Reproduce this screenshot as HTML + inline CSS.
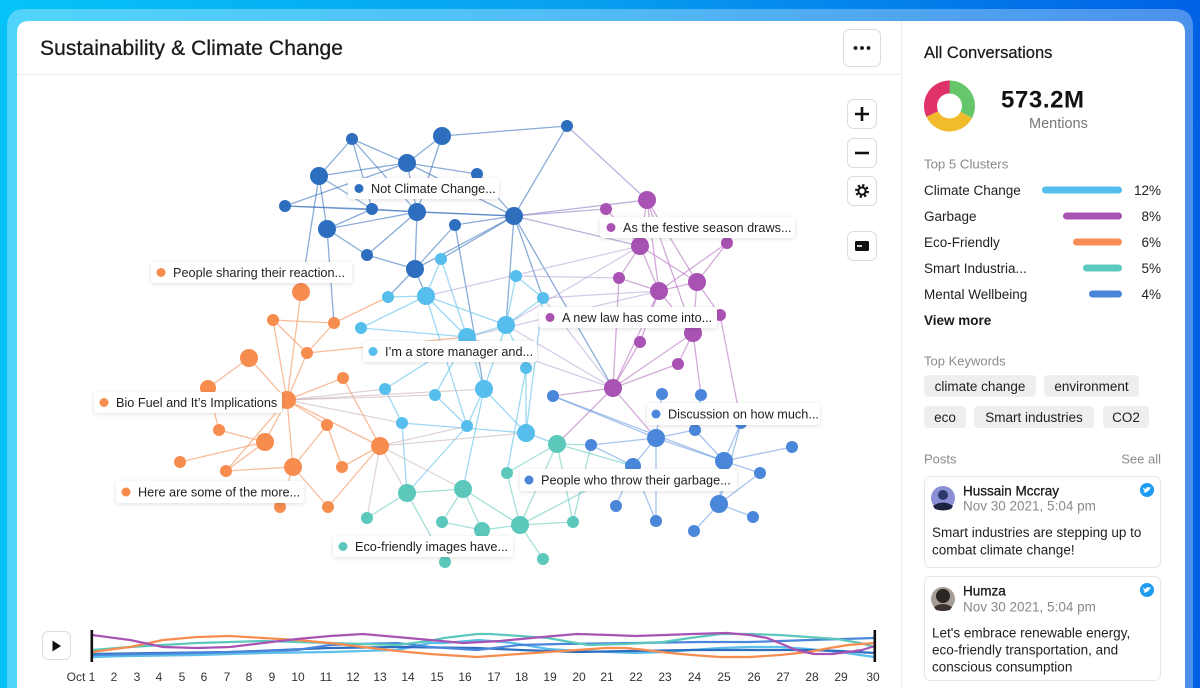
<!DOCTYPE html>
<html><head><meta charset="utf-8"><style>
html,body{margin:0;padding:0;width:1200px;height:688px;overflow:hidden;background:#fff}
svg{display:block;font-family:"Liberation Sans",sans-serif}
</style></head><body>
<svg width="1200" height="688" viewBox="0 0 1200 688" xmlns="http://www.w3.org/2000/svg">
<defs>
<linearGradient id="bg" x1="0" y1="0" x2="1" y2="0">
<stop offset="0" stop-color="#06c3f7"/><stop offset="0.5" stop-color="#079ef0"/><stop offset="1" stop-color="#0061e5"/>
</linearGradient>
<filter id="sh" x="-10%" y="-40%" width="120%" height="190%"><feDropShadow dx="0" dy="1" stdDeviation="2" flood-color="#000" flood-opacity="0.13"/></filter>
</defs>
<rect width="1200" height="688" fill="url(#bg)"/>
<path d="M7 688 V27 Q7 9 25 9 H1175 Q1193 9 1193 27 V688 Z" fill="#fff" fill-opacity="0.3"/>
<path d="M17 688 V33 Q17 21 29 21 H1173 Q1185 21 1185 33 V688 Z" fill="#fff"/>
<line x1="17" y1="74.5" x2="901" y2="74.5" stroke="#ececec"/>
<line x1="901.5" y1="21" x2="901.5" y2="688" stroke="#ececec"/>

<text x="40" y="55" font-size="21" fill="#1b1b1b" stroke="#1b1b1b" stroke-width="0.3" letter-spacing="0.1">Sustainability &amp; Climate Change</text>

<!-- more button -->
<rect x="843.5" y="29.5" width="37" height="37" rx="6" fill="#fff" stroke="#dcdcdc"/>
<circle cx="855.5" cy="48" r="1.9" fill="#111"/><circle cx="862" cy="48" r="1.9" fill="#111"/><circle cx="868.5" cy="48" r="1.9" fill="#111"/>

<!-- zoom controls -->
<rect x="847.5" y="99.5" width="29" height="29" rx="6" fill="#fff" stroke="#dcdcdc"/>
<path d="M855 114h14M862 107v14" stroke="#111" stroke-width="2.6"/>
<rect x="847.5" y="138.5" width="29" height="29" rx="6" fill="#fff" stroke="#dcdcdc"/>
<path d="M855 153h14" stroke="#111" stroke-width="2.6"/>
<rect x="847.5" y="176.5" width="29" height="29" rx="6" fill="#fff" stroke="#dcdcdc"/>
<circle cx="862" cy="191" r="5.6" fill="none" stroke="#111" stroke-width="2.6" stroke-dasharray="2.2 2.2"/>
<circle cx="862" cy="191" r="3.6" fill="none" stroke="#111" stroke-width="2"/>
<rect x="847.5" y="231.5" width="29" height="29" rx="6" fill="#fff" stroke="#dcdcdc"/>
<rect x="855" y="241" width="14" height="10" rx="1.5" fill="#111"/>
<path d="M857 246h5" stroke="#fff" stroke-width="1.6"/>

<!-- edges -->
<g stroke="#3c74bd" stroke-opacity="0.6" stroke-width="1.3">
<line x1="352" y1="139" x2="319" y2="176"/><line x1="352" y1="139" x2="407" y2="163"/><line x1="352" y1="139" x2="372" y2="209"/><line x1="352" y1="139" x2="417" y2="212"/>
<line x1="442" y1="136" x2="407" y2="163"/><line x1="442" y1="136" x2="567" y2="126"/><line x1="442" y1="136" x2="417" y2="212"/>
<line x1="407" y1="163" x2="319" y2="176"/><line x1="407" y1="163" x2="477" y2="174"/><line x1="407" y1="163" x2="514" y2="216"/><line x1="407" y1="163" x2="417" y2="212"/><line x1="407" y1="163" x2="285" y2="206"/>
<line x1="319" y1="176" x2="327" y2="229"/><line x1="319" y1="176" x2="372" y2="209"/><line x1="319" y1="176" x2="301" y2="292"/>
<line x1="285" y1="206" x2="372" y2="209"/><line x1="285" y1="206" x2="514" y2="216"/>
<line x1="372" y1="209" x2="417" y2="212"/><line x1="372" y1="209" x2="327" y2="229"/>
<line x1="417" y1="212" x2="514" y2="216"/><line x1="417" y1="212" x2="415" y2="269"/><line x1="417" y1="212" x2="367" y2="255"/><line x1="417" y1="212" x2="327" y2="229"/>
<line x1="514" y1="216" x2="455" y2="225"/><line x1="514" y1="216" x2="567" y2="126"/><line x1="514" y1="216" x2="415" y2="269"/><line x1="514" y1="216" x2="477" y2="174"/>
<line x1="455" y1="225" x2="415" y2="269"/><line x1="327" y1="229" x2="367" y2="255"/><line x1="367" y1="255" x2="415" y2="269"/>
<line x1="327" y1="229" x2="334" y2="323"/><line x1="415" y1="269" x2="426" y2="296"/><line x1="415" y1="269" x2="388" y2="297"/>
<line x1="514" y1="216" x2="543" y2="298"/><line x1="514" y1="216" x2="441" y2="259"/><line x1="514" y1="216" x2="506" y2="325"/><line x1="514" y1="216" x2="613" y2="388"/><line x1="455" y1="225" x2="484" y2="389"/>
</g>
<g stroke="#8f80c6" stroke-opacity="0.6" stroke-width="1.3">
<line x1="567" y1="126" x2="647" y2="200"/><line x1="514" y1="216" x2="647" y2="200"/><line x1="514" y1="216" x2="640" y2="246"/><line x1="514" y1="216" x2="606" y2="209"/>
</g>
<g stroke="#5cbfea" stroke-opacity="0.6" stroke-width="1.3">
<line x1="441" y1="259" x2="426" y2="296"/><line x1="388" y1="297" x2="426" y2="296"/><line x1="426" y1="296" x2="506" y2="325"/><line x1="426" y1="296" x2="467" y2="337"/><line x1="426" y1="296" x2="361" y2="328"/>
<line x1="516" y1="276" x2="506" y2="325"/><line x1="516" y1="276" x2="543" y2="298"/><line x1="543" y1="298" x2="506" y2="325"/><line x1="506" y1="325" x2="467" y2="337"/>
<line x1="467" y1="337" x2="484" y2="389"/><line x1="467" y1="337" x2="385" y2="389"/><line x1="467" y1="337" x2="435" y2="395"/><line x1="361" y1="328" x2="467" y2="337"/>
<line x1="385" y1="389" x2="402" y2="423"/><line x1="435" y1="395" x2="467" y2="426"/><line x1="484" y1="389" x2="467" y2="426"/><line x1="484" y1="389" x2="526" y2="433"/><line x1="402" y1="423" x2="526" y2="433"/>
<line x1="506" y1="325" x2="526" y2="368"/><line x1="526" y1="368" x2="526" y2="433"/><line x1="506" y1="325" x2="484" y2="389"/><line x1="426" y1="296" x2="467" y2="426"/><line x1="441" y1="259" x2="467" y2="337"/>
<line x1="526" y1="433" x2="557" y2="444"/><line x1="484" y1="389" x2="463" y2="489"/><line x1="402" y1="423" x2="407" y2="493"/><line x1="467" y1="426" x2="407" y2="493"/><line x1="526" y1="368" x2="507" y2="473"/><line x1="543" y1="298" x2="526" y2="433"/>
</g>
<g stroke="#b9a6d6" stroke-opacity="0.6" stroke-width="1.2">
<line x1="543" y1="298" x2="613" y2="388"/><line x1="516" y1="276" x2="619" y2="278"/><line x1="426" y1="296" x2="640" y2="246"/><line x1="506" y1="325" x2="640" y2="246"/><line x1="467" y1="337" x2="659" y2="291"/>
<line x1="613" y1="388" x2="506" y2="325"/><line x1="613" y1="388" x2="467" y2="337"/><line x1="659" y1="291" x2="543" y2="298"/>
</g>
<g stroke="#f5a678" stroke-opacity="0.75" stroke-width="1.3">
<line x1="301" y1="292" x2="287" y2="400"/><line x1="273" y1="320" x2="334" y2="323"/><line x1="273" y1="320" x2="307" y2="353"/><line x1="334" y1="323" x2="307" y2="353"/><line x1="307" y1="353" x2="287" y2="400"/>
<line x1="249" y1="358" x2="287" y2="400"/><line x1="249" y1="358" x2="208" y2="388"/><line x1="287" y1="400" x2="343" y2="378"/><line x1="287" y1="400" x2="327" y2="425"/><line x1="287" y1="400" x2="380" y2="446"/>
<line x1="287" y1="400" x2="293" y2="467"/><line x1="287" y1="400" x2="265" y2="442"/><line x1="287" y1="400" x2="226" y2="471"/><line x1="287" y1="400" x2="273" y2="320"/>
<line x1="343" y1="378" x2="380" y2="446"/><line x1="327" y1="425" x2="342" y2="467"/><line x1="327" y1="425" x2="293" y2="467"/><line x1="219" y1="430" x2="265" y2="442"/><line x1="265" y1="442" x2="180" y2="462"/>
<line x1="226" y1="471" x2="293" y2="467"/><line x1="226" y1="471" x2="265" y2="442"/><line x1="293" y1="467" x2="328" y2="507"/><line x1="342" y1="467" x2="380" y2="446"/><line x1="380" y1="446" x2="328" y2="507"/>
<line x1="208" y1="388" x2="219" y2="430"/><line x1="280" y1="507" x2="293" y2="467"/><line x1="334" y1="323" x2="388" y2="297"/><line x1="307" y1="353" x2="467" y2="337"/>
</g>
<g stroke="#c9b3b8" stroke-opacity="0.6" stroke-width="1.2">
<line x1="287" y1="400" x2="385" y2="389"/><line x1="287" y1="400" x2="402" y2="423"/><line x1="287" y1="400" x2="435" y2="395"/><line x1="287" y1="400" x2="484" y2="389"/>
<line x1="380" y1="446" x2="407" y2="493"/><line x1="380" y1="446" x2="367" y2="518"/><line x1="380" y1="446" x2="467" y2="426"/><line x1="380" y1="446" x2="463" y2="489"/><line x1="380" y1="446" x2="526" y2="433"/>
</g>
<g stroke="#b672c0" stroke-opacity="0.6" stroke-width="1.3">
<line x1="647" y1="200" x2="640" y2="246"/><line x1="647" y1="200" x2="659" y2="291"/><line x1="647" y1="200" x2="697" y2="282"/><line x1="647" y1="200" x2="693" y2="333"/>
<line x1="640" y1="246" x2="619" y2="278"/><line x1="640" y1="246" x2="659" y2="291"/><line x1="640" y1="246" x2="697" y2="282"/><line x1="727" y1="243" x2="697" y2="282"/><line x1="727" y1="243" x2="659" y2="291"/>
<line x1="619" y1="278" x2="659" y2="291"/><line x1="659" y1="291" x2="697" y2="282"/><line x1="659" y1="291" x2="640" y2="342"/><line x1="659" y1="291" x2="693" y2="333"/><line x1="659" y1="291" x2="613" y2="388"/>
<line x1="697" y1="282" x2="720" y2="315"/><line x1="697" y1="282" x2="693" y2="333"/><line x1="720" y1="315" x2="693" y2="333"/><line x1="693" y1="333" x2="678" y2="364"/><line x1="693" y1="333" x2="613" y2="388"/>
<line x1="640" y1="342" x2="613" y2="388"/><line x1="678" y1="364" x2="613" y2="388"/><line x1="619" y1="278" x2="613" y2="388"/><line x1="606" y1="209" x2="640" y2="246"/>
<line x1="720" y1="315" x2="741" y2="423"/><line x1="693" y1="333" x2="701" y2="395"/><line x1="613" y1="388" x2="553" y2="396"/><line x1="613" y1="388" x2="656" y2="438"/><line x1="613" y1="388" x2="557" y2="444"/>
</g>
<g stroke="#6a9de1" stroke-opacity="0.6" stroke-width="1.3">
<line x1="553" y1="396" x2="656" y2="438"/><line x1="662" y1="394" x2="656" y2="438"/><line x1="656" y1="438" x2="591" y2="445"/><line x1="656" y1="438" x2="724" y2="461"/><line x1="656" y1="438" x2="633" y2="466"/>
<line x1="656" y1="438" x2="656" y2="521"/><line x1="656" y1="438" x2="695" y2="430"/><line x1="695" y1="430" x2="724" y2="461"/><line x1="741" y1="423" x2="724" y2="461"/><line x1="701" y1="395" x2="695" y2="430"/>
<line x1="792" y1="447" x2="724" y2="461"/><line x1="724" y1="461" x2="760" y2="473"/><line x1="724" y1="461" x2="719" y2="504"/><line x1="760" y1="473" x2="719" y2="504"/><line x1="719" y1="504" x2="753" y2="517"/>
<line x1="719" y1="504" x2="694" y2="531"/><line x1="633" y1="466" x2="616" y2="506"/><line x1="591" y1="445" x2="633" y2="466"/><line x1="741" y1="423" x2="719" y2="504"/><line x1="656" y1="521" x2="633" y2="466"/><line x1="553" y1="396" x2="724" y2="461"/>
</g>
<g stroke="#72cfc5" stroke-opacity="0.65" stroke-width="1.3">
<line x1="557" y1="444" x2="520" y2="525"/><line x1="557" y1="444" x2="507" y2="473"/><line x1="557" y1="444" x2="573" y2="522"/><line x1="557" y1="444" x2="591" y2="445"/>
<line x1="407" y1="493" x2="463" y2="489"/><line x1="407" y1="493" x2="367" y2="518"/><line x1="407" y1="493" x2="445" y2="562"/><line x1="463" y1="489" x2="442" y2="522"/><line x1="463" y1="489" x2="482" y2="530"/>
<line x1="463" y1="489" x2="520" y2="525"/><line x1="507" y1="473" x2="520" y2="525"/><line x1="442" y1="522" x2="482" y2="530"/><line x1="482" y1="530" x2="520" y2="525"/><line x1="520" y1="525" x2="573" y2="522"/>
<line x1="520" y1="525" x2="543" y2="559"/><line x1="557" y1="444" x2="633" y2="466"/><line x1="573" y1="522" x2="591" y2="445"/><line x1="520" y1="525" x2="633" y2="466"/>
</g>

<!-- nodes -->
<g fill="#2e6ebe">
<circle cx="352" cy="139" r="6"/><circle cx="442" cy="136" r="9"/><circle cx="407" cy="163" r="9"/><circle cx="319" cy="176" r="9"/><circle cx="477" cy="174" r="6"/>
<circle cx="285" cy="206" r="6"/><circle cx="372" cy="209" r="6"/><circle cx="417" cy="212" r="9"/><circle cx="514" cy="216" r="9"/><circle cx="455" cy="225" r="6"/>
<circle cx="327" cy="229" r="9"/><circle cx="367" cy="255" r="6"/><circle cx="415" cy="269" r="9"/><circle cx="567" cy="126" r="6"/>
</g>
<g fill="#56beec">
<circle cx="441" cy="259" r="6"/><circle cx="516" cy="276" r="6"/><circle cx="388" cy="297" r="6"/><circle cx="426" cy="296" r="9"/><circle cx="543" cy="298" r="6"/>
<circle cx="361" cy="328" r="6"/><circle cx="506" cy="325" r="9"/><circle cx="467" cy="337" r="9"/><circle cx="526" cy="368" r="6"/><circle cx="385" cy="389" r="6"/>
<circle cx="435" cy="395" r="6"/><circle cx="484" cy="389" r="9"/><circle cx="402" cy="423" r="6"/><circle cx="467" cy="426" r="6"/><circle cx="526" cy="433" r="9"/>
</g>
<g fill="#f78c4f">
<circle cx="301" cy="292" r="9"/><circle cx="273" cy="320" r="6"/><circle cx="334" cy="323" r="6"/><circle cx="307" cy="353" r="6"/><circle cx="249" cy="358" r="9"/>
<circle cx="208" cy="388" r="8"/><circle cx="287" cy="400" r="9"/><circle cx="343" cy="378" r="6"/><circle cx="327" cy="425" r="6"/><circle cx="219" cy="430" r="6"/>
<circle cx="265" cy="442" r="9"/><circle cx="380" cy="446" r="9"/><circle cx="180" cy="462" r="6"/><circle cx="226" cy="471" r="6"/><circle cx="293" cy="467" r="9"/>
<circle cx="342" cy="467" r="6"/><circle cx="280" cy="507" r="6"/><circle cx="328" cy="507" r="6"/>
</g>
<g fill="#a852b3">
<circle cx="647" cy="200" r="9"/><circle cx="606" cy="209" r="6"/><circle cx="640" cy="246" r="9"/><circle cx="727" cy="243" r="6"/><circle cx="619" cy="278" r="6"/>
<circle cx="659" cy="291" r="9"/><circle cx="697" cy="282" r="9"/><circle cx="720" cy="315" r="6"/><circle cx="693" cy="333" r="9"/><circle cx="640" cy="342" r="6"/>
<circle cx="678" cy="364" r="6"/><circle cx="613" cy="388" r="9"/>
</g>
<g fill="#4a87da">
<circle cx="553" cy="396" r="6"/><circle cx="662" cy="394" r="6"/><circle cx="701" cy="395" r="6"/><circle cx="695" cy="430" r="6"/><circle cx="741" cy="423" r="6"/>
<circle cx="656" cy="438" r="9"/><circle cx="591" cy="445" r="6"/><circle cx="792" cy="447" r="6"/><circle cx="724" cy="461" r="9"/><circle cx="633" cy="466" r="8"/>
<circle cx="760" cy="473" r="6"/><circle cx="616" cy="506" r="6"/><circle cx="719" cy="504" r="9"/><circle cx="656" cy="521" r="6"/><circle cx="753" cy="517" r="6"/><circle cx="694" cy="531" r="6"/>
</g>
<g fill="#5cc8bc">
<circle cx="557" cy="444" r="9"/><circle cx="407" cy="493" r="9"/><circle cx="463" cy="489" r="9"/><circle cx="507" cy="473" r="6"/><circle cx="367" cy="518" r="6"/>
<circle cx="442" cy="522" r="6"/><circle cx="482" cy="530" r="8"/><circle cx="520" cy="525" r="9"/><circle cx="573" cy="522" r="6"/><circle cx="543" cy="559" r="6"/><circle cx="445" cy="562" r="6"/>
</g>

<!-- labels -->
<g font-size="12.7" fill="#1f1f1f">
<rect x="348" y="178" width="151" height="21" rx="3" fill="#fff" filter="url(#sh)"/><circle cx="359" cy="188.5" r="4.5" fill="#2e6ebe"/><text x="371" y="193">Not Climate Change...</text>
<rect x="600" y="217" width="195" height="21" rx="3" fill="#fff" filter="url(#sh)"/><circle cx="611" cy="227.5" r="4.5" fill="#a852b3"/><text x="623" y="232">As the festive season draws...</text>
<rect x="151" y="262" width="201" height="21" rx="3" fill="#fff" filter="url(#sh)"/><circle cx="161" cy="272.5" r="4.5" fill="#f78c4f"/><text x="173" y="277">People sharing their reaction...</text>
<rect x="539" y="307" width="178" height="21" rx="3" fill="#fff" filter="url(#sh)"/><circle cx="550" cy="317.5" r="4.5" fill="#a852b3"/><text x="562" y="322">A new law has come into...</text>
<rect x="363" y="341" width="174" height="21" rx="3" fill="#fff" filter="url(#sh)"/><circle cx="373" cy="351.5" r="4.5" fill="#56beec"/><text x="385" y="356">I’m a store manager and...</text>
<rect x="94" y="392" width="188" height="21" rx="3" fill="#fff" filter="url(#sh)"/><circle cx="104" cy="402.5" r="4.5" fill="#f78c4f"/><text x="116" y="407">Bio Fuel and It’s Implications</text>
<rect x="647" y="403" width="173" height="22" rx="3" fill="#fff" filter="url(#sh)"/><circle cx="656" cy="414" r="4.5" fill="#4a87da"/><text x="668" y="418.5">Discussion on how much...</text>
<rect x="520" y="469" width="217" height="22" rx="3" fill="#fff" filter="url(#sh)"/><circle cx="529" cy="480" r="4.5" fill="#4a87da"/><text x="541" y="484.5">People who throw their garbage...</text>
<rect x="116" y="481" width="188" height="22" rx="3" fill="#fff" filter="url(#sh)"/><circle cx="126" cy="492" r="4.5" fill="#f78c4f"/><text x="138" y="496.5">Here are some of the more...</text>
<rect x="333" y="536" width="180" height="21" rx="3" fill="#fff" filter="url(#sh)"/><circle cx="343" cy="546.5" r="4.5" fill="#5cc8bc"/><text x="355" y="551">Eco-friendly images have...</text>
</g>

<!-- timeline -->
<rect x="42.5" y="631.5" width="28" height="28" rx="6" fill="#fff" stroke="#dcdcdc"/>
<path d="M52.5 640.5 L61 646 L52.5 651.5 Z" fill="#111"/>
<g fill="none" stroke-width="2.2" stroke-linejoin="round" stroke-linecap="round">
<polyline stroke="#5cbfea" points="92,657 130,656 197,655 263,653 330,652 397,650 430,643 444,643 479,640 513,643 548,649 580,651 610,652 635,653 665,652 692,650 720,648 750,647 780,647 808,649 840,652 860,655 875,657"/>
<polyline stroke="#2e6ebe" points="92,654 160,653 230,652 330,648 397,647 477,648 520,650 577,652 630,651 692,650 750,650 808,650 840,651 875,653"/>
<polyline stroke="#4a87da" points="92,655 197,653 297,650 330,645 360,644 397,643 430,647 477,650 519,645 560,644 635,643 700,642 750,642 810,640 875,638"/>
<polyline stroke="#5cc8bc" points="92,650 130,647 163,645 197,643 263,641 297,642 363,644 397,645 430,641 444,638 477,634 490,634 520,636 548,638 570,642 589,645 625,644 663,642 690,638 721,634 750,634 779,635 808,637 837,639 860,643 875,647"/>
<polyline stroke="#f78c4f" points="92,652 130,647 163,640 197,637 230,636 263,638 297,640 330,643 363,647 397,651 430,654 477,657 519,654 548,652 577,650 606,648 626,648 646,650 670,653 692,655 720,657 750,657 780,655 808,652 830,648 848,645 875,643"/>
<polyline stroke="#a852b3" points="92,635 130,640 163,647 197,648 230,647 263,643 297,639 330,636 363,634 397,637 430,640 463,643 500,641 542,637 577,634 610,635 635,636 665,635 692,634 727,633 750,635 767,638 782,644 796,650 814,654 832,654 848,652 862,650 875,646"/>
</g>
<rect x="90.5" y="630" width="2.6" height="32" fill="#111"/>
<rect x="873.5" y="630" width="2.6" height="32" fill="#111"/>
<g font-size="12" fill="#333" text-anchor="middle">
<text x="81" y="681">Oct 1</text><text x="114" y="681">2</text><text x="137" y="681">3</text><text x="159" y="681">4</text><text x="182" y="681">5</text>
<text x="204" y="681">6</text><text x="227" y="681">7</text><text x="249" y="681">8</text><text x="272" y="681">9</text><text x="298" y="681">10</text>
<text x="326" y="681">11</text><text x="353" y="681">12</text><text x="380" y="681">13</text><text x="408" y="681">14</text><text x="437" y="681">15</text>
<text x="465" y="681">16</text><text x="494" y="681">17</text><text x="521.5" y="681">18</text><text x="550" y="681">19</text><text x="579" y="681">20</text>
<text x="607" y="681">21</text><text x="636" y="681">22</text><text x="665" y="681">23</text><text x="694.5" y="681">24</text><text x="724" y="681">25</text>
<text x="754" y="681">26</text><text x="783" y="681">27</text><text x="812" y="681">28</text><text x="841" y="681">29</text><text x="873" y="681">30</text>
</g>

<!-- right panel -->
<text x="924" y="58" font-size="16.5" fill="#1b1b1b" stroke="#1b1b1b" stroke-width="0.25">All Conversations</text>
<g transform="rotate(-90 949.5 106)"><circle cx="949.5" cy="106" r="19" fill="none" stroke="#66c66b" stroke-width="13" stroke-dasharray="39.1 200"/></g>
<g transform="rotate(28 949.5 106)"><circle cx="949.5" cy="106" r="19" fill="none" stroke="#f1bb2c" stroke-width="13" stroke-dasharray="42.1 200"/></g>
<g transform="rotate(155 949.5 106)"><circle cx="949.5" cy="106" r="19" fill="none" stroke="#e0336a" stroke-width="13" stroke-dasharray="38.3 200"/></g>
<text x="1001" y="107.5" font-size="24" font-weight="bold" fill="#111" letter-spacing="0.6">573.2M</text>
<text x="1029" y="128" font-size="14.5" fill="#777">Mentions</text>

<text x="924" y="168.5" font-size="13.2" fill="#8a8a8a">Top 5 Clusters</text>
<g font-size="13.5" fill="#1f1f1f">
<text x="924" y="195">Climate Change</text><text x="924" y="221">Garbage</text><text x="924" y="247">Eco-Friendly</text><text x="924" y="273">Smart Industria...</text><text x="924" y="299">Mental Wellbeing</text>
<g text-anchor="end"><text x="1161" y="195">12%</text><text x="1161" y="221">8%</text><text x="1161" y="247">6%</text><text x="1161" y="273">5%</text><text x="1161" y="299">4%</text></g>
</g>
<g stroke-width="7" stroke-linecap="round">
<line x1="1045.5" y1="190" x2="1118.5" y2="190" stroke="#56beec"/>
<line x1="1066.5" y1="216" x2="1118.5" y2="216" stroke="#a852b3"/>
<line x1="1076.5" y1="242" x2="1118.5" y2="242" stroke="#f78c55"/>
<line x1="1086.5" y1="268" x2="1118.5" y2="268" stroke="#5cc8be"/>
<line x1="1092.5" y1="294" x2="1118.5" y2="294" stroke="#4a86d8"/>
</g>
<text x="924" y="325" font-size="13.5" font-weight="bold" fill="#1b1b1b">View more</text>

<text x="924" y="365.5" font-size="13" fill="#8a8a8a">Top Keywords</text>
<g fill="#eeeeee">
<rect x="924" y="375" width="112" height="22" rx="4"/><rect x="1044" y="375" width="95" height="22" rx="4"/>
<rect x="924" y="406" width="42" height="22" rx="4"/><rect x="974" y="406" width="120" height="22" rx="4"/><rect x="1103" y="406" width="46" height="22" rx="4"/>
</g>
<g font-size="13.5" fill="#1f1f1f" text-anchor="middle">
<text x="980" y="391">climate change</text><text x="1091.5" y="391">environment</text>
<text x="945" y="422">eco</text><text x="1034" y="422">Smart industries</text><text x="1126" y="422">CO2</text>
</g>

<text x="924" y="463.5" font-size="13" fill="#8a8a8a">Posts</text>
<text x="1161" y="463.5" font-size="13" fill="#8a8a8a" text-anchor="end">See all</text>

<rect x="924.5" y="476.5" width="236" height="91" rx="6" fill="#fff" stroke="#e6e6e6"/>
<circle cx="943" cy="498" r="12" fill="#8d8fd6"/>
<circle cx="943" cy="495" r="5" fill="#2b3a6a"/>
<path d="M933 506 Q943 499 953 506 L951 509 Q943 512 935 509 Z" fill="#1d2240"/>
<text x="963" y="495.5" font-size="13.5" fill="#1b1b1b" stroke="#1b1b1b" stroke-width="0.3">Hussain Mccray</text>
<text x="963" y="510.5" font-size="13.5" fill="#8a8a8a">Nov 30 2021, 5:04 pm</text>
<circle cx="1147" cy="490" r="7" fill="#1d9bf0"/>
<path d="M1143 492 Q1146 494 1150 489 L1151 487 Q1149 488 1148 487 Q1146 487 1146 489 Q1144 489 1143 487 Q1143 490 1145 491 Z" fill="#fff"/>
<text x="932" y="537" font-size="13.5" fill="#1f1f1f">Smart industries are stepping up to</text>
<text x="932" y="554.5" font-size="13.5" fill="#1f1f1f">combat climate change!</text>

<rect x="924.5" y="576.5" width="236" height="104" rx="6" fill="#fff" stroke="#e6e6e6"/>
<circle cx="943" cy="599" r="12" fill="#a59e96"/>
<circle cx="943" cy="596" r="7" fill="#2a2623"/>
<path d="M934 607 Q943 601 952 607 L950 610 Q943 612 936 610 Z" fill="#3a3330"/>
<text x="963" y="595.5" font-size="13.5" fill="#1b1b1b" stroke="#1b1b1b" stroke-width="0.3">Humza</text>
<text x="963" y="611.5" font-size="13.5" fill="#8a8a8a">Nov 30 2021, 5:04 pm</text>
<circle cx="1147" cy="590" r="7" fill="#1d9bf0"/>
<path d="M1143 592 Q1146 594 1150 589 L1151 587 Q1149 588 1148 587 Q1146 587 1146 589 Q1144 589 1143 587 Q1143 590 1145 591 Z" fill="#fff"/>
<text x="932" y="637.5" font-size="13.5" fill="#1f1f1f">Let's embrace renewable energy,</text>
<text x="932" y="654.5" font-size="13.5" fill="#1f1f1f">eco-friendly transportation, and</text>
<text x="932" y="671.5" font-size="13.5" fill="#1f1f1f">conscious consumption</text>
</svg>
</body></html>
